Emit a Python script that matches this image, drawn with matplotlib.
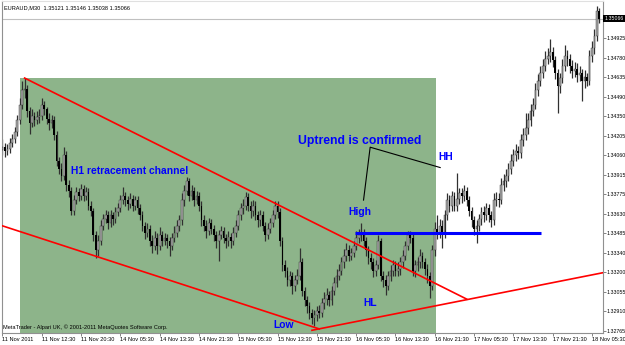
import numpy as np
import matplotlib.pyplot as plt
from matplotlib.patches import Rectangle

# EURAUD M30, bars 11 Nov 04:30 .. 18 Nov ~07:00 (bar index on x)
first_open = 1.3410
closes = [
    1.3412, 1.3409, 1.3411, 1.3415, 1.3418, 1.3423, 1.3432, 1.3443, 1.3454, 1.3455,
    1.3439, 1.3430, 1.3435, 1.3432, 1.3434, 1.3435, 1.3443, 1.3440, 1.3433, 1.3430,
    1.3432, 1.3421, 1.3402, 1.3396, 1.3391, 1.3406, 1.3384, 1.3380, 1.3365, 1.3373,
    1.3379, 1.3376, 1.3381, 1.3376, 1.3379, 1.3369, 1.3365, 1.3347, 1.3336, 1.3343,
    1.3354, 1.3359, 1.3362, 1.3356, 1.3362, 1.3359, 1.3364, 1.3367, 1.3373, 1.3376,
    1.3373, 1.3370, 1.3374, 1.3369, 1.3373, 1.3367, 1.3362, 1.3354, 1.3349, 1.3352,
    1.3343, 1.3339, 1.3345, 1.3339, 1.3347, 1.3343, 1.3345, 1.3343, 1.3339, 1.3345,
    1.3349, 1.3354, 1.3358, 1.3373, 1.3380, 1.3387, 1.3376, 1.3380, 1.3373, 1.3376,
    1.3369, 1.3358, 1.3354, 1.3350, 1.3356, 1.3352, 1.3347, 1.3343, 1.3347, 1.3350,
    1.3345, 1.3343, 1.3346, 1.3343, 1.3349, 1.3354, 1.3362, 1.3367, 1.3369, 1.3375,
    1.3369, 1.3365, 1.3369, 1.3362, 1.3358, 1.3362, 1.3354, 1.3347, 1.3352, 1.3356,
    1.3362, 1.3369, 1.3364, 1.3343, 1.3325, 1.3321, 1.3314, 1.3317, 1.3310, 1.3314,
    1.3317, 1.3327, 1.3306, 1.3299, 1.3295, 1.3290, 1.3286, 1.3288, 1.3291, 1.3290,
    1.3297, 1.3300, 1.3303, 1.3299, 1.3306, 1.3312, 1.3317, 1.3321, 1.3327, 1.3332,
    1.3336, 1.3332, 1.3334, 1.3339, 1.3345, 1.3347, 1.3349, 1.3343, 1.3336, 1.3330,
    1.3327, 1.3321, 1.3325, 1.3343, 1.3317, 1.3314, 1.3310, 1.3317, 1.3321, 1.3325,
    1.3321, 1.3322, 1.3327, 1.3332, 1.3339, 1.3347, 1.3345, 1.3321, 1.3325, 1.3327,
    1.3332, 1.3327, 1.3322, 1.3317, 1.3310, 1.3336, 1.3352, 1.3349, 1.3354, 1.3349,
    1.3362, 1.3373, 1.3369, 1.3376, 1.3369, 1.3374, 1.3378, 1.3376, 1.3380, 1.3373,
    1.3365, 1.3358, 1.3352, 1.3354, 1.3359, 1.3364, 1.3362, 1.3367, 1.3362, 1.3358,
    1.3373, 1.3374, 1.3373, 1.3384, 1.3387, 1.3391, 1.3396, 1.3402, 1.3406, 1.3409,
    1.3408, 1.3417, 1.3421, 1.3426, 1.3432, 1.3439, 1.3443, 1.3454, 1.3461, 1.3467,
    1.3472, 1.3477, 1.3479, 1.3482, 1.3476, 1.3467, 1.3457, 1.3463, 1.3472, 1.3479,
    1.3477, 1.3472, 1.3468, 1.3470, 1.3465, 1.3467, 1.3461, 1.3464, 1.3461, 1.3479,
    1.3485, 1.3494, 1.35121, 1.35066,
]
highs = [
    1.3418, 1.3415, 1.3414, 1.3419, 1.3422, 1.3427, 1.3436, 1.3448, 1.3461, 1.3463,
    1.3458, 1.3442, 1.3440, 1.3438, 1.3439, 1.3440, 1.3448, 1.3446, 1.3442, 1.3437,
    1.3436, 1.3435, 1.3424, 1.3405, 1.3400, 1.3412, 1.3409, 1.3388, 1.3383, 1.3377,
    1.3383, 1.3382, 1.3385, 1.3384, 1.3383, 1.3382, 1.3372, 1.3367, 1.3350, 1.3347,
    1.3358, 1.3363, 1.3366, 1.3365, 1.3366, 1.3364, 1.3368, 1.3371, 1.3377, 1.3383,
    1.3379, 1.3376, 1.3378, 1.3377, 1.3376, 1.3376, 1.3370, 1.3365, 1.3357, 1.3356,
    1.3355, 1.3347, 1.3350, 1.3349, 1.3353, 1.3350, 1.3349, 1.3348, 1.3346, 1.3349,
    1.3354, 1.3358, 1.3362, 1.3378, 1.3384, 1.3390, 1.3389, 1.3384, 1.3383, 1.3380,
    1.3379, 1.3372, 1.3362, 1.3358, 1.3360, 1.3359, 1.3355, 1.3350, 1.3351, 1.3354,
    1.3353, 1.3348, 1.3350, 1.3349, 1.3353, 1.3358, 1.3366, 1.3371, 1.3374, 1.3379,
    1.3378, 1.3372, 1.3373, 1.3372, 1.3365, 1.3366, 1.3365, 1.3357, 1.3356, 1.3360,
    1.3366, 1.3372, 1.3372, 1.3367, 1.3346, 1.3329, 1.3324, 1.3321, 1.3320, 1.3318,
    1.3322, 1.3338, 1.3330, 1.3309, 1.3302, 1.3298, 1.3293, 1.3292, 1.3295, 1.3296,
    1.3301, 1.3305, 1.3308, 1.3306, 1.3310, 1.3316, 1.3322, 1.3326, 1.3331, 1.3337,
    1.3341, 1.3340, 1.3338, 1.3343, 1.3350, 1.3352, 1.3356, 1.3352, 1.3346, 1.3339,
    1.3334, 1.3330, 1.3329, 1.3347, 1.3345, 1.3321, 1.3318, 1.3321, 1.3325, 1.3329,
    1.3328, 1.3327, 1.3331, 1.3336, 1.3343, 1.3350, 1.3350, 1.3348, 1.3329, 1.3331,
    1.3337, 1.3335, 1.3330, 1.3326, 1.3320, 1.3340, 1.3357, 1.3362, 1.3359, 1.3358,
    1.3366, 1.3378, 1.3377, 1.3380, 1.3379, 1.3393, 1.3382, 1.3382, 1.3384, 1.3383,
    1.3376, 1.3368, 1.3361, 1.3358, 1.3363, 1.3368, 1.3369, 1.3371, 1.3370, 1.3365,
    1.3378, 1.3379, 1.3378, 1.3389, 1.3392, 1.3396, 1.3400, 1.3407, 1.3411, 1.3414,
    1.3413, 1.3422, 1.3426, 1.3437, 1.3437, 1.3444, 1.3448, 1.3459, 1.3466, 1.3472,
    1.3477, 1.3483, 1.3485, 1.3492, 1.3486, 1.3479, 1.3470, 1.3467, 1.3477, 1.3487,
    1.3484, 1.3481, 1.3476, 1.3475, 1.3474, 1.3472, 1.3470, 1.3469, 1.3467, 1.3484,
    1.3490, 1.3499, 1.3516, 1.35146,
]
lows = [
    1.3406, 1.3405, 1.3406, 1.3408, 1.3412, 1.3415, 1.3420, 1.3429, 1.3440, 1.3448,
    1.3434, 1.3422, 1.3427, 1.3428, 1.3429, 1.3430, 1.3432, 1.3436, 1.3429, 1.3425,
    1.3426, 1.3417, 1.3398, 1.3392, 1.3387, 1.3388, 1.3380, 1.3375, 1.3362, 1.3362,
    1.3370, 1.3372, 1.3373, 1.3372, 1.3373, 1.3366, 1.3361, 1.3343, 1.3330, 1.3332,
    1.3340, 1.3351, 1.3356, 1.3352, 1.3353, 1.3355, 1.3356, 1.3361, 1.3364, 1.3370,
    1.3369, 1.3366, 1.3367, 1.3365, 1.3366, 1.3363, 1.3358, 1.3350, 1.3344, 1.3346,
    1.3339, 1.3334, 1.3336, 1.3333, 1.3336, 1.3339, 1.3340, 1.3338, 1.3332, 1.3336,
    1.3342, 1.3346, 1.3350, 1.3355, 1.3369, 1.3377, 1.3372, 1.3373, 1.3369, 1.3370,
    1.3365, 1.3354, 1.3350, 1.3345, 1.3347, 1.3348, 1.3343, 1.3338, 1.3328, 1.3344,
    1.3341, 1.3338, 1.3339, 1.3338, 1.3340, 1.3346, 1.3351, 1.3358, 1.3363, 1.3366,
    1.3365, 1.3360, 1.3361, 1.3358, 1.3353, 1.3354, 1.3350, 1.3343, 1.3344, 1.3349,
    1.3353, 1.3359, 1.3360, 1.3339, 1.3321, 1.3316, 1.3310, 1.3310, 1.3304, 1.3306,
    1.3311, 1.3314, 1.3302, 1.3295, 1.3290, 1.3285, 1.3282, 1.3280, 1.3284, 1.3286,
    1.3287, 1.3293, 1.3296, 1.3295, 1.3296, 1.3303, 1.3309, 1.3314, 1.3318, 1.3323,
    1.3328, 1.3328, 1.3329, 1.3331, 1.3336, 1.3341, 1.3343, 1.3339, 1.3332, 1.3326,
    1.3322, 1.3316, 1.3317, 1.3322, 1.3313, 1.3309, 1.3303, 1.3307, 1.3313, 1.3317,
    1.3317, 1.3317, 1.3318, 1.3323, 1.3329, 1.3336, 1.3341, 1.3317, 1.3316, 1.3321,
    1.3323, 1.3323, 1.3318, 1.3312, 1.3301, 1.3307, 1.3332, 1.3344, 1.3345, 1.3338,
    1.3345, 1.3358, 1.3364, 1.3365, 1.3365, 1.3365, 1.3370, 1.3371, 1.3372, 1.3369,
    1.3361, 1.3353, 1.3347, 1.3341, 1.3350, 1.3355, 1.3357, 1.3358, 1.3357, 1.3353,
    1.3355, 1.3369, 1.3368, 1.3370, 1.3380, 1.3383, 1.3387, 1.3392, 1.3398, 1.3402,
    1.3403, 1.3404, 1.3413, 1.3417, 1.3422, 1.3428, 1.3435, 1.3440, 1.3450, 1.3457,
    1.3463, 1.3468, 1.3473, 1.3475, 1.3471, 1.3462, 1.3437, 1.3452, 1.3459, 1.3468,
    1.3472, 1.3467, 1.3463, 1.3464, 1.3460, 1.3461, 1.3446, 1.3456, 1.3457, 1.3458,
    1.3475, 1.3481, 1.3490, 1.35038,
]

bid = 1.35066
price_ticks = [1.34925, 1.34780, 1.34635, 1.34490, 1.34350, 1.34205, 1.34060, 1.33915,
               1.33775, 1.33630, 1.33485, 1.33340, 1.33200, 1.33055, 1.32910, 1.32765]
time_ticks = list(range(0, 241, 16))
time_labels = ["11 Nov 2011", "11 Nov 12:30", "11 Nov 20:30", "14 Nov 05:30", "14 Nov 13:30",
               "14 Nov 21:30", "15 Nov 05:30", "15 Nov 13:30", "15 Nov 21:30", "16 Nov 05:30",
               "16 Nov 13:30", "16 Nov 21:30", "17 Nov 05:30", "17 Nov 13:30", "17 Nov 21:30",
               "18 Nov 05:30"]

# drawn objects (bar index, price)
box_t = (7, 176.6)
box_p = (1.3200, 1.3463)
upper_line = ([9, 189], [1.3463, 1.3300])
lower_line = ([0, 129], [1.3354, 1.3278])
support_line = ([126, 246], [1.3277, 1.3320])
level_line = ([143.6, 219.3], [1.33485, 1.33485])
pointer_line = ([147, 149.7, 178.2], [1.3373, 1.3412, 1.3397])
labels = [("H1 retracement channel", 51.7, 1.33947, 7.4),
          ("Uptrend is confirmed", 145.6, 1.34168, 8.8),
          ("HH", 180.6, 1.3405, 7.4),
          ("High", 145.6, 1.33645, 7.4),
          ("HL", 149.7, 1.32974, 7.4),
          ("Low", 114.3, 1.32812, 7.4)]

small = ['Liberation Sans', 'DejaVu Sans']
bold = ['Liberation Sans', 'DejaVu Sans']
fs = 4.1

fig = plt.figure(figsize=(6.25, 3.45), dpi=100)
ax = fig.add_axes([2 / 625, 12 / 345, 601 / 625, 332 / 345])
ax.set_xlim(-0.2, 244.5)
ax.set_ylim(1.32750, 1.35198)

ax.add_patch(Rectangle((box_t[0], box_p[0]), box_t[1] - box_t[0], box_p[1] - box_p[0],
                       facecolor='#8db48a', edgecolor='none', zorder=0))

x = np.arange(len(closes))
c = np.array(closes)
h = np.array(highs)
l = np.array(lows)
o = np.r_[first_open, c[:-1]]
up = c >= o
lo = np.minimum(o, c)
hh = np.maximum(np.abs(c - o), 0.00004)
ax.vlines(x, l, h, color='#303030', lw=0.9, zorder=2)
ax.bar(x[up], hh[up], bottom=lo[up], width=0.72, color='#a8a8a8',
       edgecolor='#303030', linewidth=0.3, zorder=3)
ax.bar(x[~up], hh[~up], bottom=lo[~up], width=0.72, color='black', zorder=3)

ax.axhline(bid, color='#c0c0c0', lw=0.8, zorder=1)

ax.plot(*upper_line, color='#ff0000', lw=1.2, zorder=4)
ax.plot(*lower_line, color='#ff0000', lw=1.2, zorder=4)
ax.plot(*support_line, color='#ff0000', lw=1.2, zorder=4)
ax.plot(*level_line, color='#0000ff', lw=2.2, zorder=4, solid_capstyle='butt')
ax.plot(*pointer_line, color='black', lw=0.8, zorder=4)

for txt, tx, ty, size in labels:
    ax.text(tx, ty, txt, color='#0000ff', fontsize=size, fontweight='bold',
            family=bold, ha='center', va='center', zorder=5)

ax.text(0.004, 0.988, "EURAUD,M30  1.35121 1.35146 1.35038 1.35066", transform=ax.transAxes,
        fontsize=fs, family=small, va='top', ha='left')
ax.text(0.002, 0.018, "MetaTrader - Alpari UK, \u00a9 2001-2011 MetaQuotes Software Corp.",
        transform=ax.transAxes, fontsize=fs, family=small, va='center', ha='left', zorder=5)

ax.yaxis.tick_right()
ax.set_yticks(price_ticks)
ax.set_yticklabels(["%.5f" % p for p in price_ticks], fontsize=3.8, family=small)
ax.set_xticks(time_ticks)
ax.set_xticklabels(time_labels, fontsize=fs, family=small, ha='left')
ax.tick_params(axis='both', direction='out', length=2, width=0.6, color='#707070', pad=0.6)
ax.text(1.002, bid, "1.35066", transform=ax.get_yaxis_transform(), fontsize=3.8, family=small,
        color='white', va='center', ha='left',
        bbox=dict(boxstyle='square,pad=0.2', facecolor='black', edgecolor='none'))

for s in ax.spines.values():
    s.set_color('#909090')
    s.set_linewidth(0.8)
ax.spines['top'].set_color('#e0e0e0')

fig.savefig('out.png', dpi=100)
